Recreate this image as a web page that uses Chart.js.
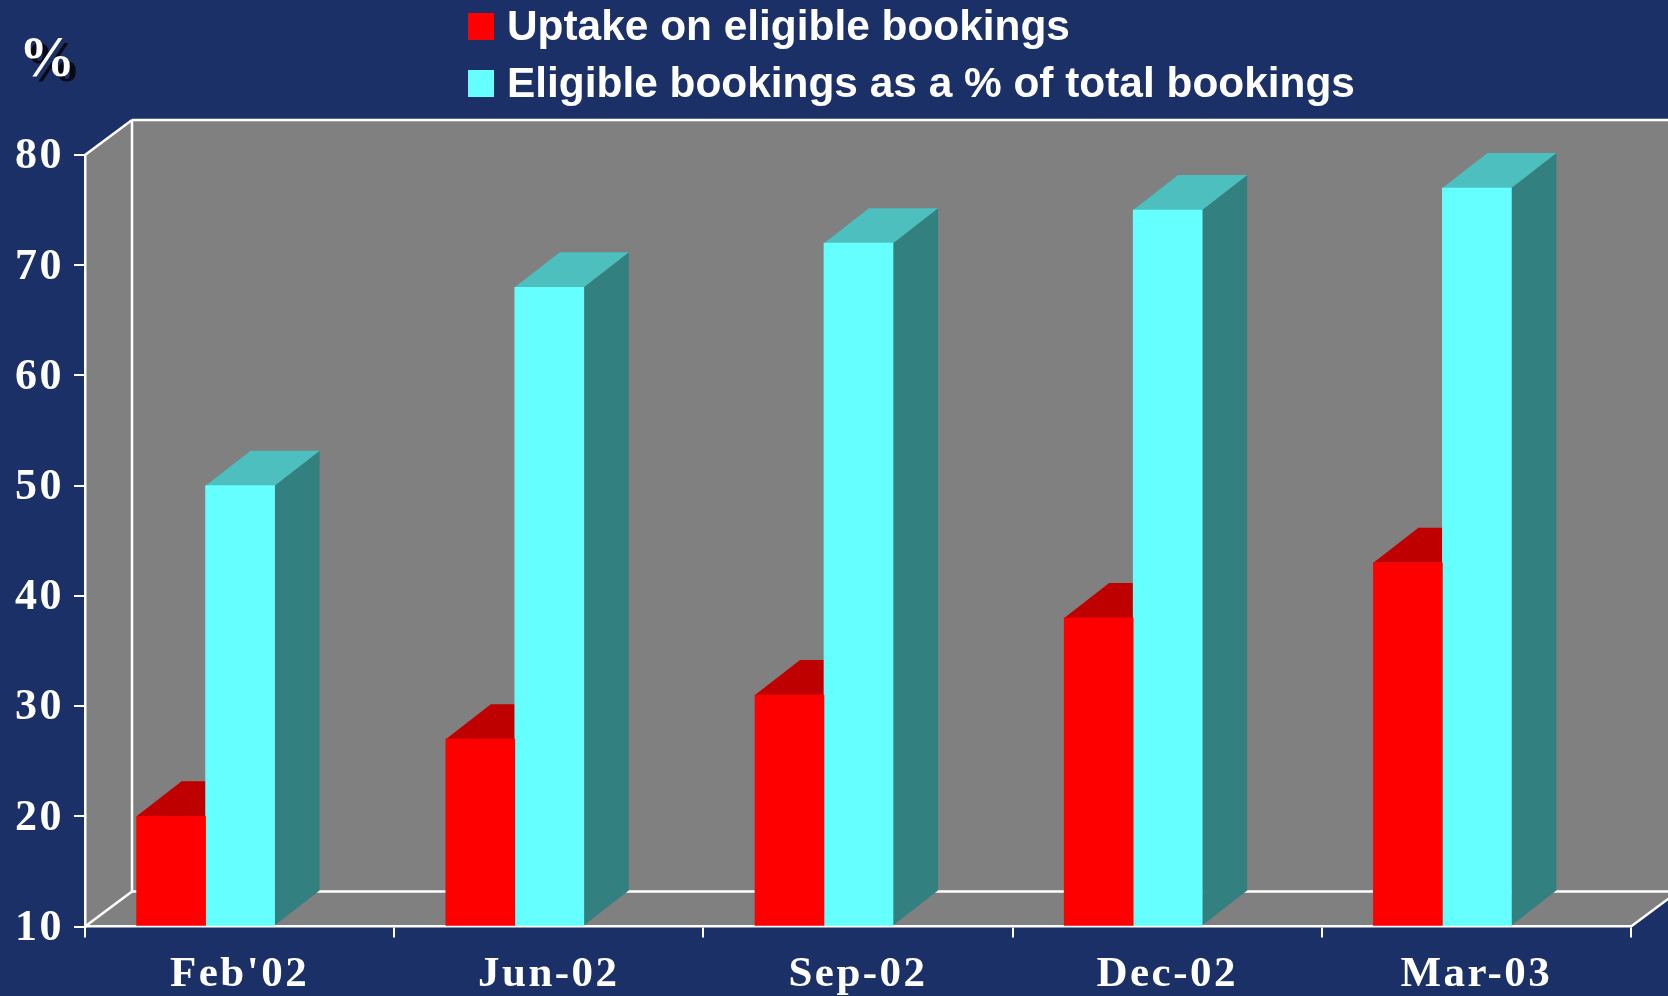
<!DOCTYPE html>
<html>
<head>
<meta charset="utf-8">
<style>html,body{margin:0;padding:0;background:#1C3068;overflow:hidden}canvas{display:block}</style>
<script src="https://cdn.jsdelivr.net/npm/chart.js@4/dist/chart.umd.min.js"></script>
</head>
<body>
<canvas id="c" width="1668" height="996"></canvas>
<script>
const categories = ["Feb'02", "Jun-02", "Sep-02", "Dec-02", "Mar-03"];
const uptake = [20, 27, 31, 38, 43];
const eligible = [50, 68, 72, 75, 77];
const seriesNames = ["Uptake on eligible bookings", "Eligible bookings as a % of total bookings"];
const faceColors = ["#FF0000", "#66FFFF"];
const topColors = ["#BF0000", "#4DBFBF"];
const sideColors = ["#BF0000", "#338080"];
const yMin = 10, yMax = 80, yStep = 10;
const unitLabel = "%";

const BG = "#1C3068", WALL = "#808080", LINE = "#FFFFFF";
const wallDX = 47, wallDY = 35, barDX = 45, barDY = 35;
const barShift = 0.11;
const SERIF = '"Liberation Serif","Times New Roman",serif';
const SANS = '"Liberation Sans",Arial,sans-serif';

function poly(ctx, pts, fill, stroke, w) {
  ctx.beginPath();
  pts.forEach((p, i) => i ? ctx.lineTo(p[0], p[1]) : ctx.moveTo(p[0], p[1]));
  ctx.closePath();
  if (fill) { ctx.fillStyle = fill; ctx.fill(); }
  if (stroke) { ctx.strokeStyle = stroke; ctx.lineWidth = w; ctx.stroke(); }
}
function seg(ctx, x1, y1, x2, y2) {
  ctx.beginPath(); ctx.moveTo(x1, y1); ctx.lineTo(x2, y2); ctx.stroke();
}

const scene3d = {
  id: "scene3d",
  beforeDraw(chart) {
    const ctx = chart.ctx;
    ctx.save();
    ctx.fillStyle = BG;
    ctx.fillRect(0, 0, chart.width, chart.height);
    ctx.restore();
    ctx.letterSpacing = "2.5px";
    const a = chart.chartArea;
    const W = chart.width;
    const bx = a.left + wallDX, ty = a.top - wallDY, by = a.bottom - wallDY;
    ctx.save();
    ctx.letterSpacing = "0px";
    poly(ctx, [[bx, ty], [W, ty], [W, by], [bx, by]], WALL);
    poly(ctx, [[a.left, a.top], [bx, ty], [bx, by], [a.left, a.bottom]], WALL);
    poly(ctx, [[a.left, a.bottom], [bx, by], [W, by], [W, by + 6], [a.right, a.bottom]], WALL);
    ctx.strokeStyle = LINE; ctx.lineWidth = 2.5;
    seg(ctx, bx, ty, W, ty);
    seg(ctx, bx, ty, bx, by);
    seg(ctx, bx, by, W, by);
    seg(ctx, a.left, a.top, bx, ty);
    seg(ctx, a.left, a.bottom, bx, by);
    seg(ctx, a.right, a.bottom, a.right + wallDX, by);
    // unit label with its drop shadow
    ctx.font = "bold 56px " + SERIF;
    ctx.textAlign = "left"; ctx.textBaseline = "alphabetic";
    ctx.fillStyle = "#0A0A14";
    ctx.fillText(unitLabel, 25, 81);
    ctx.fillStyle = "#FFFFFF";
    ctx.fillText(unitLabel, 19, 76);
    // legend
    const ly = [26, 83];
    seriesNames.forEach((n, i) => {
      ctx.fillStyle = faceColors[i];
      ctx.fillRect(468, ly[i] - 13, 26, 27);
      ctx.fillStyle = "#FFFFFF";
      ctx.font = "bold 42.4px " + SANS;
      ctx.textBaseline = "middle";
      ctx.fillText(n, 507, ly[i] + 2);
    });
    ctx.restore();
  },
  beforeDatasetsDraw(chart) {
    const ctx = chart.ctx;
    chart.data.datasets.forEach((ds, d) => {
      chart.getDatasetMeta(d).data.forEach(bar => {
        const l = bar.x - bar.width / 2, r = bar.x + bar.width / 2, t = bar.y, b = bar.base;
        poly(ctx, [[r, t], [r + barDX, t - barDY], [r + barDX, b - barDY], [r, b]], sideColors[d]);
        poly(ctx, [[l, t], [l + barDX, t - barDY], [r + barDX, t - barDY], [r, t]], topColors[d]);
      });
    });
  }
};

new Chart(document.getElementById("c"), {
  type: "bar",
  plugins: [scene3d],
  data: {
    labels: categories,
    datasets: [
      { label: seriesNames[0], data: uptake.map((v, i) => ({ x: i, y: v })), base: yMin, backgroundColor: faceColors[0], borderWidth: 0, xAxisID: "xBars", yAxisID: "y", barThickness: 69 },
      { label: seriesNames[1], data: eligible.map((v, i) => ({ x: i, y: v })), base: yMin, backgroundColor: faceColors[1], borderWidth: 0, xAxisID: "xBars", yAxisID: "y", barThickness: 69 }
    ]
  },
  options: {
    responsive: false,
    animation: false,
    events: [],
    layout: { padding: { left: 0, right: 37, top: 155, bottom: 0 } },
    plugins: { legend: { display: false }, tooltip: { enabled: false }, title: { display: false } },
    scales: {
      xBars: {
        type: "linear", axis: "x", position: "bottom", weight: 5, offset: false,
        min: -0.5 + barShift, max: categories.length - 0.5 + barShift,
        afterFit(s) { s.height = 0; },
        border: { display: false },
        grid: { display: false, drawTicks: false, offset: false },
        ticks: { display: false, padding: 0 }
      },
      x: {
        type: "category", axis: "x", position: "bottom", offset: true,
        afterFit(s) { s.height = 69.5; },
        border: { color: LINE, width: 2.5 },
        grid: { drawOnChartArea: false, drawTicks: true, offset: true, color: LINE, lineWidth: 2, tickLength: 11 },
        ticks: { color: "#FFFFFF", font: { family: SERIF, weight: "bold", size: 43 }, maxRotation: 0, padding: 12, autoSkip: false }
      },
      y: {
        type: "linear", position: "left", min: yMin, max: yMax,
        afterFit(s) { s.width = 85; },
        afterUpdate(s) {
          const proto = Object.getPrototypeOf(s);
          s._computeLabelItems = function (area) {
            const items = proto._computeLabelItems.call(s, area);
            items.forEach(it => { it.options.translation = [it.options.translation[0] - 2, it.options.translation[1] + 2]; });
            return items;
          };
        },
        border: { color: LINE, width: 2.5 },
        grid: { drawOnChartArea: false, drawTicks: true, color: LINE, lineWidth: 2, tickLength: 11 },
        ticks: { stepSize: yStep, color: "#FFFFFF", font: { family: SERIF, weight: "bold", size: 44 }, padding: 8 }
      }
    }
  }
});
</script>
</body>
</html>
